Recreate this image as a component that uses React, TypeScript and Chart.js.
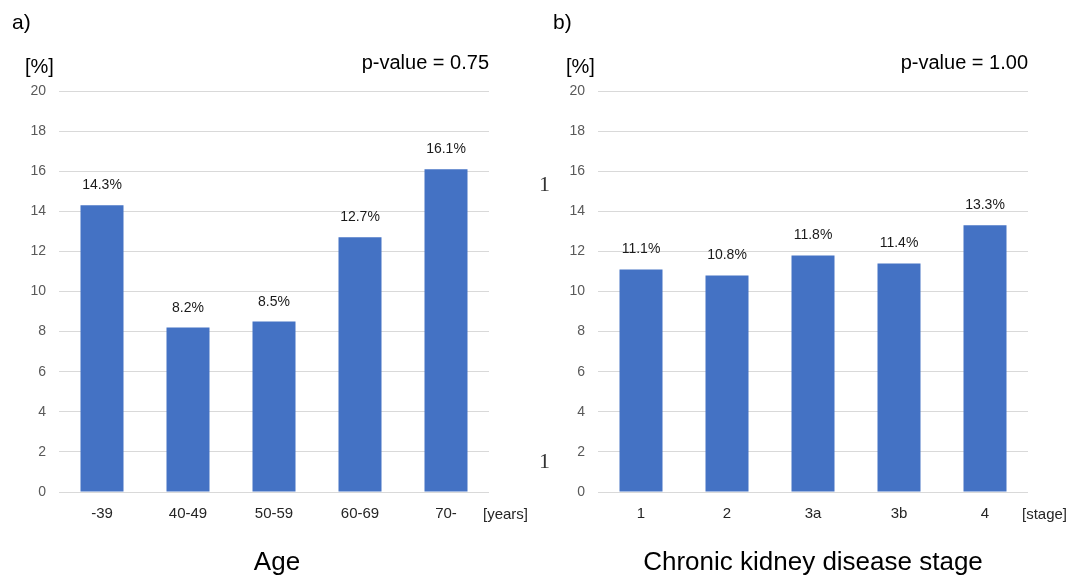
import React, { useEffect, useRef } from 'react';
import { Chart, registerables } from 'chart.js';

Chart.register(...registerables);

const ageCategories = ['-39', '40-49', '50-59', '60-69', '70-'];
const ageRates = [14.3, 8.2, 8.5, 12.7, 16.1];
const ckdCategories = ['1', '2', '3a', '3b', '4'];
const ckdRates = [11.1, 10.8, 11.8, 11.4, 13.3];
const yMin = 0;
const yMax = 20;
const yStep = 2;

const FONT = '"Liberation Sans", Arial, Helvetica, sans-serif';
const BAR_COLOR = '#4472C4';

type PanelProps = {
  left: number;
  width: number;
  categories: string[];
  values: number[];
  panelLabel: string;
  pValue: string;
  unit: string;
  title: string;
  titleX: number;
  axisWidth: number;
  padRight: number;
};

function Panel(props: PanelProps) {
  const ref = useRef<HTMLCanvasElement | null>(null);
  useEffect(() => {
    if (!ref.current) return;
    const p = props;
    const textPlugin = {
      id: 'panelText',
      afterDraw(chart: any) {
        const ctx = chart.ctx;
        const area = chart.chartArea;
        const meta = chart.getDatasetMeta(0);
        ctx.save();
        ctx.fillStyle = '#1a1a1a';
        ctx.textBaseline = 'alphabetic';
        // data labels
        ctx.font = `14px ${FONT}`;
        ctx.textAlign = 'center';
        meta.data.forEach((bar: any, i: number) => {
          ctx.fillText(p.values[i].toFixed(1) + '%', bar.x, bar.y - 16);
        });
        // panel label
        ctx.fillStyle = '#000';
        ctx.font = `21px ${FONT}`;
        ctx.textAlign = 'left';
        ctx.fillText(p.panelLabel, 12, 29);
        // unit
        ctx.font = `20px ${FONT}`;
        ctx.fillText('[%]', 25, 73);
        // p-value
        ctx.textAlign = 'right';
        ctx.fillText(p.pValue, area.right, 69);
        // x unit
        ctx.fillStyle = '#262626';
        ctx.textAlign = 'left';
        ctx.font = `15px ${FONT}`;
        ctx.fillText(p.unit, area.right - 6, 519);
        // title
        ctx.fillStyle = '#000';
        ctx.textAlign = 'center';
        ctx.font = `26px ${FONT}`;
        ctx.fillText(p.title, p.titleX - p.left, 570);
        ctx.restore();
      },
    };
    const chart = new Chart(ref.current, {
      type: 'bar',
      data: {
        labels: p.categories,
        datasets: [
          {
            data: p.values,
            backgroundColor: BAR_COLOR,
            borderWidth: 0,
            barPercentage: 0.5,
            categoryPercentage: 1,
          },
        ],
      },
      options: {
        animation: false,
        responsive: false,
        maintainAspectRatio: false,
        layout: { padding: { top: 91, left: 0, right: p.padRight, bottom: 0 } },
        plugins: { legend: { display: false }, tooltip: { enabled: false } },
        scales: {
          x: {
            grid: { display: false, drawTicks: false },
            border: { display: false },
            ticks: { color: '#262626', font: { size: 15, family: FONT }, padding: 13 },
            afterFit(scale: any) {
              scale.height = 83;
            },
          },
          y: {
            min: yMin,
            max: yMax,
            grid: { color: '#d9d9d9', lineWidth: 1, drawTicks: false },
            border: { display: false },
            ticks: {
              stepSize: yStep,
              color: '#595959',
              font: { size: 14, family: FONT },
              padding: 13,
            },
            afterFit(scale: any) {
              scale.width = p.axisWidth;
            },
          },
        },
      },
      plugins: [textPlugin],
    });
    return () => chart.destroy();
  }, []);
  return (
    <canvas
      ref={ref}
      width={props.width}
      height={575}
      style={{ position: 'absolute', left: props.left, top: 0, width: props.width, height: 575 }}
    />
  );
}

export default function App() {
  return (
    <div
      style={{
        position: 'fixed',
        left: 0,
        top: 0,
        width: 1083,
        height: 575,
        background: '#fff',
        overflow: 'hidden',
      }}
    >
      <Panel
        left={0}
        width={541}
        categories={ageCategories}
        values={ageRates}
        panelLabel="a)"
        pValue="p-value = 0.75"
        unit="[years]"
        title="Age"
        titleX={277}
        axisWidth={59}
        padRight={52}
      />
      <Panel
        left={541}
        width={542}
        categories={ckdCategories}
        values={ckdRates}
        panelLabel="b)"
        pValue="p-value = 1.00"
        unit="[stage]"
        title="Chronic kidney disease stage"
        titleX={813}
        axisWidth={57}
        padRight={55}
      />
      <span
        style={{
          position: 'absolute',
          left: 539,
          top: 172,
          font: '22px "Liberation Serif", serif',
          color: '#333',
          lineHeight: '24px',
        }}
      >
        1
      </span>
      <span
        style={{
          position: 'absolute',
          left: 539,
          top: 449,
          font: '22px "Liberation Serif", serif',
          color: '#333',
          lineHeight: '24px',
        }}
      >
        1
      </span>
    </div>
  );
}
